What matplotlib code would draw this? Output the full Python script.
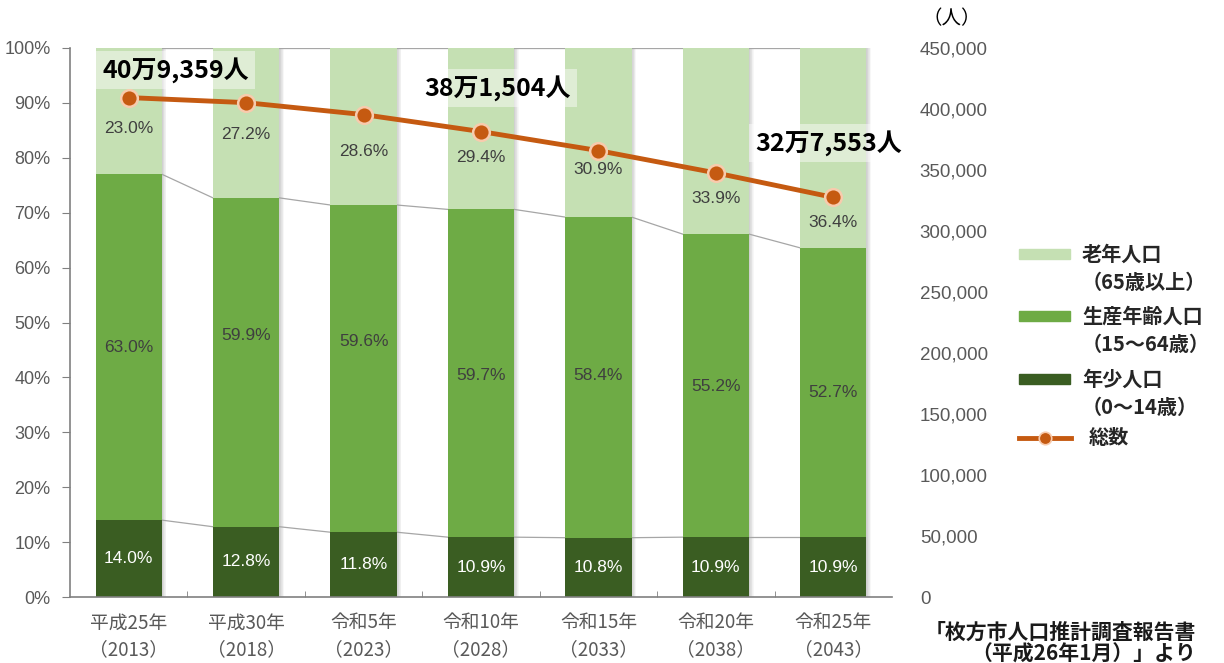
import numpy as np
import matplotlib.pyplot as plt
from matplotlib.patches import Rectangle
from matplotlib.lines import Line2D

plt.rcParams['font.family'] = ['Noto Sans CJK JP', 'DejaVu Sans']

years = ['平成25年\n（2013）', '平成30年\n（2018）', '令和5年\n（2023）', '令和10年\n（2028）',
         '令和15年\n（2033）', '令和20年\n（2038）', '令和25年\n（2043）']
young = [14.0, 12.8, 11.8, 10.9, 10.8, 10.9, 10.9]
working = [63.0, 59.9, 59.6, 59.7, 58.4, 55.2, 52.7]
elderly = [23.0, 27.2, 28.6, 29.4, 30.9, 33.9, 36.4]
total = [409359, 405200, 395400, 381504, 365900, 347600, 327553]
total_labels = {0: '40万9,359人', 3: '38万1,504人', 6: '32万7,553人'}
legend_names = [('老年人口', '（65歳以上）'), ('生産年齢人口', '（15～64歳）'),
                ('年少人口', '（0～14歳）')]

# where the percent labels sit inside each segment (percent units)
elderly_label_y = [85.4, 84.2, 81.1, 80.0, 77.8, 72.5, 68.3]
working_label_y = [45.5, 47.7, 46.6, 40.4, 40.4, 38.3, 37.2]
# anchor points of the total callouts (category x, people y)
callout_pos = {0: (0.40, 432000), 3: (3.14, 417000), 6: (5.96, 372000)}

c_old = '#c5e0b3'
c_work = '#6eab45'
c_young = '#3a5d22'
c_line = '#c55a11'
c_tick = '#595959'

x = np.arange(len(years))
w = 0.565
young = np.array(young)
working = np.array(working)
elderly = np.array(elderly)
mid = young + working

W, H = 1224, 663
fig = plt.figure(figsize=(W / 100, H / 100), dpi=100)
ax = fig.add_axes([70 / W, 1 - 597 / H, 822 / W, 549 / H])

# soft shadow on the right of each column
for k in range(1, 8):
    ax.bar(x + 0.0055 * k, 100, w, color='#707070', alpha=0.05, zorder=1, linewidth=0)

ax.bar(x, young, w, color=c_young, zorder=2, linewidth=0)
ax.bar(x, working, w, bottom=young, color=c_work, zorder=2, linewidth=0)
ax.bar(x, 100 - mid, w, bottom=mid, color=c_old, zorder=2, linewidth=0)

# series lines between columns
for tops in (young, mid, np.full(len(x), 100.0)):
    for i in range(len(x) - 1):
        ax.plot([x[i] + w / 2, x[i + 1] - w / 2], [tops[i], tops[i + 1]],
                color='#a6a6a6', lw=0.9, zorder=1.5)

for i in range(len(x)):
    ax.text(x[i], young[i] / 2, f'{young[i]:.1f}%', ha='center', va='center',
            color='white', fontsize=12.5, family='Liberation Sans', zorder=3)
    ax.text(x[i], working_label_y[i], f'{working[i]:.1f}%', ha='center', va='center',
            color='#3f3f3f', fontsize=12.5, family='Liberation Sans', zorder=3)
    ax.text(x[i], elderly_label_y[i], f'{elderly[i]:.1f}%', ha='center', va='center',
            color='#3f3f3f', fontsize=12.5, family='Liberation Sans', zorder=3)

ax.set_xlim(-0.5, len(x) - 0.5)
ax.set_ylim(0, 100)
ax.set_yticks(np.arange(0, 101, 10))
ax.set_yticklabels([f'{v}%' for v in range(0, 101, 10)], family='Liberation Sans')
ax.set_xticks(x)
ax.set_xticklabels(years, linespacing=1.4)
ax.set_xticks(np.arange(0.5, len(x) - 0.5, 1), minor=True)
ax.tick_params(axis='x', which='major', length=0, pad=11, labelsize=13.5, labelcolor=c_tick)
ax.tick_params(axis='x', which='minor', length=4, direction='in', color='#808080')
ax.tick_params(axis='y', length=6, color='#808080', labelsize=13, labelcolor=c_tick, pad=8)
for side in ('top', 'right'):
    ax.spines[side].set_visible(False)
for side in ('left', 'bottom'):
    ax.spines[side].set_color('#808080')
    ax.spines[side].set_linewidth(1.2)

ax2 = ax.twinx()
ax2.set_ylim(0, 450000)
ax2.set_yticks(np.arange(0, 450001, 50000))
ax2.set_yticklabels([f'{v:,}' for v in range(0, 450001, 50000)], family='Liberation Sans')
ax2.tick_params(axis='y', length=0, labelsize=13.5, labelcolor=c_tick, pad=20)
for side in ('top', 'right', 'left', 'bottom'):
    ax2.spines[side].set_visible(False)

ax2.plot(x, total, color=c_line, lw=3.5, marker='o', ms=12, mfc=c_line,
         mec='#f8cbad', mew=1.8, zorder=5)

for i, label in total_labels.items():
    cx, cy = callout_pos[i]
    ax2.text(cx, cy, label, ha='center', va='center', fontsize=18, weight='bold',
             color='black', zorder=6,
             bbox=dict(boxstyle='square,pad=0.25', fc='white', ec='none', alpha=0.45))

fig.text(952 / W, 1 - 19 / H, '（人）', ha='center', va='center', fontsize=14)

# legend, drawn by hand so the swatches line up with the first text line
fig_px = dict(transform=fig.transFigure)
swatch_y = [254, 316, 379]
for (name, sub), color, y in zip(legend_names, (c_old, c_work, c_young), swatch_y):
    fig.patches.append(Rectangle((1019 / W, 1 - (y + 5) / H), 51 / W, 10 / H,
                                 color=color, **fig_px))
    fig.text(1082 / W, 1 - y / H, name, ha='left', va='center',
             fontsize=14.5, weight='bold', color='#262626')
    fig.text(1082 / W, 1 - (y + 28) / H, sub, ha='left', va='center',
             fontsize=14.5, weight='bold', color='#262626')
fig.lines.append(Line2D([1019 / W, 1071 / W], [1 - 438 / H] * 2, color=c_line, lw=3.5,
                        marker='o', ms=9, markevery=[], **fig_px))
fig.lines.append(Line2D([1045 / W], [1 - 438 / H], color=c_line, marker='o', ms=9,
                        mec='#f8cbad', mew=1.2, **fig_px))
fig.text(1089 / W, 1 - 438 / H, '総数', ha='left', va='center',
         fontsize=14.5, weight='bold', color='#262626')

fig.text(925 / W, 1 - 632 / H, '「枚方市人口推計調査報告書', ha='left', va='center',
         fontsize=15, weight='bold', color='#1a1a1a')
fig.text(1196 / W, 1 - 654 / H, '（平成26年1月）」より', ha='right', va='center',
         fontsize=15, weight='bold', color='#1a1a1a')

fig.savefig('out.png', dpi=100)
